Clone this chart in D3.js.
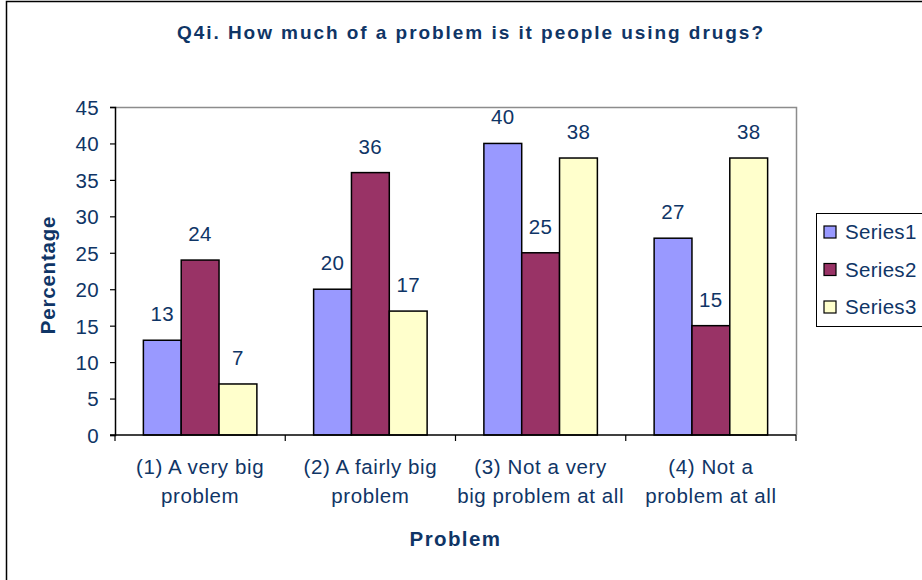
<!DOCTYPE html>
<html>
<head>
<meta charset="utf-8">
<script src="https://cdn.jsdelivr.net/npm/d3@7/dist/d3.min.js"></script>
<style>
  html, body { margin: 0; padding: 0; background: #fff; }
  svg { display: block; }
  text { font-family: "Liberation Sans", Arial, sans-serif; fill: #0f3566; }
</style>
</head>
<body>
<div id="chart"></div>
<script>
// Chart data
const categories = [
  ['(1) A very big', 'problem'],
  ['(2) A fairly big', 'problem'],
  ['(3) Not a very', 'big problem at all'],
  ['(4) Not a', 'problem at all']
];
const seriesNames = ['Series1', 'Series2', 'Series3'];
const series1 = [13, 20, 40, 27];
const series2 = [24, 36, 25, 15];
const series3 = [7, 17, 38, 38];
const yTicks = [0, 5, 10, 15, 20, 25, 30, 35, 40, 45];

const width = 922;
const height = 580;
const plot = { left: 115, right: 796, top: 107, bottom: 435 };

const colors = ['#9999ff', '#993366', '#ffffcc'];
const allSeries = [series1, series2, series3];

const svg = d3.select('#chart')
  .append('svg')
  .attr('width', width)
  .attr('height', height);

// Outer chart border (right/bottom fall outside the picture)
svg.append('rect')
  .attr('x', 6.5).attr('y', 1.5)
  .attr('width', 1000).attr('height', 1000)
  .attr('fill', '#fff')
  .attr('stroke', '#000')
  .attr('stroke-width', 1.5);

// Scales
const x0 = d3.scaleBand()
  .domain(d3.range(categories.length))
  .range([plot.left, plot.right])
  .padding(0);

// Excel-style gap width 150%: group = 3 bars + 1.5 bar of gap
const barW = x0.bandwidth() / 4.5;
const x1 = d3.scaleBand()
  .domain(d3.range(seriesNames.length))
  .range([barW * 0.75, barW * 0.75 + barW * 3])
  .padding(0);

const y = d3.scaleLinear()
  .domain([0, 45])
  .range([plot.bottom, plot.top]);

// Plot frame: grey top and right edges
svg.append('path')
  .attr('d', `M${plot.left},${plot.top + 0.5} H${plot.right + 0.5} V${plot.bottom}`)
  .attr('fill', 'none')
  .attr('stroke', '#8c8c8c')
  .attr('stroke-width', 1.5);

// Bars
const groups = svg.append('g').attr('class', 'bars')
  .selectAll('g')
  .data(categories)
  .join('g')
  .attr('transform', (d, i) => `translate(${x0(i)},0)`);

groups.each(function(d, ci) {
  const g = d3.select(this);
  allSeries.forEach((vals, si) => {
    g.append('rect')
      .attr('x', x1(si))
      .attr('y', y(vals[ci]))
      .attr('width', x1.bandwidth())
      .attr('height', y(0) - y(vals[ci]))
      .attr('fill', colors[si])
      .attr('stroke', '#000')
      .attr('stroke-width', 1.5);

    g.append('text')
      .attr('x', x1(si) + x1.bandwidth() / 2)
      .attr('y', y(vals[ci]) - 19)
      .attr('text-anchor', 'middle')
      .attr('font-size', '20.5px')
      .attr('letter-spacing', '0.4px')
      .text(vals[ci]);
  });
});

// Y axis
const yAxis = svg.append('g')
  .attr('transform', `translate(${plot.left},0)`)
  .call(d3.axisLeft(y).tickValues(yTicks).tickSize(5).tickPadding(11));
yAxis.select('.domain').attr('stroke', '#000').attr('stroke-width', 1.5);
yAxis.selectAll('.tick line').attr('stroke', '#000').attr('stroke-width', 1.2);
yAxis.selectAll('.tick text')
  .attr('font-family', '"Liberation Sans", Arial, sans-serif')
  .attr('font-size', '20.5px')
  .attr('letter-spacing', '0.3px')
  .attr('fill', '#0f3566')
  .attr('dy', '0.36em');

// X axis with ticks on category boundaries
const xBase = svg.append('g').attr('class', 'x-axis');
xBase.append('line')
  .attr('x1', plot.left - 5).attr('x2', plot.right)
  .attr('y1', plot.bottom).attr('y2', plot.bottom)
  .attr('stroke', '#000').attr('stroke-width', 1.5);
d3.range(categories.length + 1).forEach(i => {
  const xb = i < categories.length ? x0(i) : plot.right;
  xBase.append('line')
    .attr('x1', xb).attr('x2', xb)
    .attr('y1', plot.bottom).attr('y2', plot.bottom + 6)
    .attr('stroke', '#000').attr('stroke-width', 1.2);
});

// Category labels (two lines)
categories.forEach((lines, i) => {
  const t = svg.append('text')
    .attr('x', x0(i) + x0.bandwidth() / 2)
    .attr('y', 474)
    .attr('text-anchor', 'middle')
    .attr('font-size', '20.5px')
    .attr('letter-spacing', '0.6px');
  lines.forEach((ln, k) => {
    t.append('tspan')
      .attr('x', x0(i) + x0.bandwidth() / 2)
      .attr('dy', k === 0 ? 0 : 29)
      .text(ln);
  });
});

// Title
svg.append('text')
  .attr('x', 470)
  .attr('y', 39)
  .attr('text-anchor', 'middle')
  .attr('font-size', '19px')
  .attr('font-weight', 'bold')
  .attr('textLength', 586)
  .attr('lengthAdjust', 'spacing')
  .text('Q4i. How much of a problem is it people using drugs?');

// Axis titles
svg.append('text')
  .attr('transform', 'translate(55,275) rotate(-90)')
  .attr('text-anchor', 'middle')
  .attr('font-size', '20.5px')
  .attr('font-weight', 'bold')
  .attr('letter-spacing', '0.8px')
  .text('Percentage');

svg.append('text')
  .attr('x', (plot.left + plot.right) / 2)
  .attr('y', 546)
  .attr('text-anchor', 'middle')
  .attr('font-size', '20.5px')
  .attr('font-weight', 'bold')
  .attr('letter-spacing', '1.4px')
  .text('Problem');

// Legend
const legend = svg.append('g').attr('class', 'legend');
legend.append('rect')
  .attr('x', 816.5).attr('y', 213.5)
  .attr('width', 200).attr('height', 113)
  .attr('fill', '#fff')
  .attr('stroke', '#000')
  .attr('stroke-width', 1);

seriesNames.forEach((name, i) => {
  const cy = 232 + i * 37.5;
  legend.append('rect')
    .attr('x', 824).attr('y', cy - 6)
    .attr('width', 12).attr('height', 12)
    .attr('fill', colors[i])
    .attr('stroke', '#000')
    .attr('stroke-width', 1.2);
  legend.append('text')
    .attr('x', 845)
    .attr('y', cy)
    .attr('dy', '0.36em')
    .attr('font-size', '20.5px')
    .attr('letter-spacing', '0.3px')
    .text(name);
});
</script>
</body>
</html>
